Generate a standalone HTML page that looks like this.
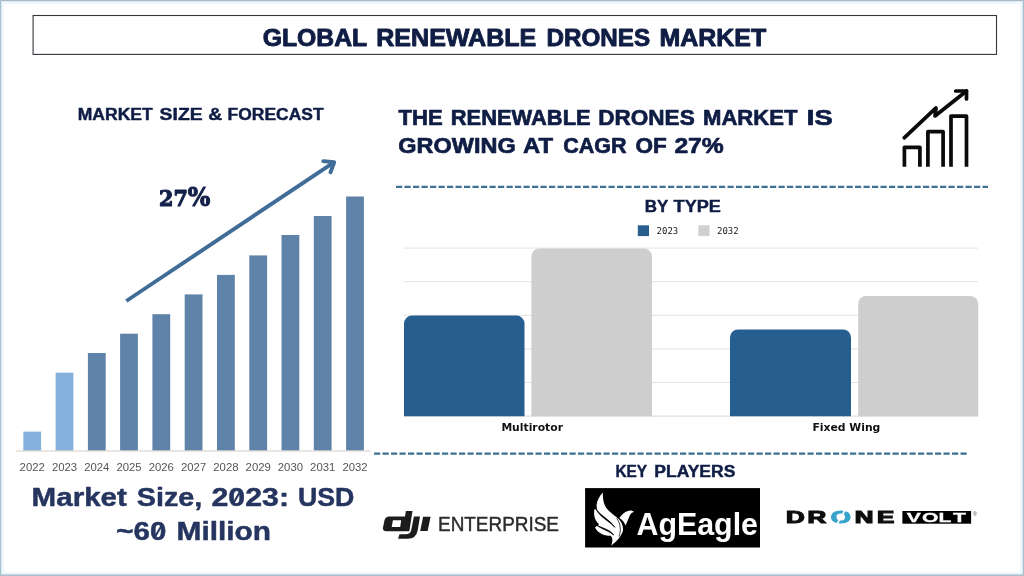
<!DOCTYPE html>
<html lang="en">
<head>
<meta charset="utf-8">
<title>Global Renewable Drones Market</title>
<style>
html,body{margin:0;padding:0;background:#fff;}
body{width:1024px;height:576px;overflow:hidden;position:relative;}
svg{position:absolute;left:0;top:0;display:block;}
.h{font-family:"Liberation Sans",sans-serif;font-weight:bold;fill:#0f1d45;stroke:#0f1d45;stroke-width:0.45px;stroke-linejoin:round;}
.yr{font-family:"Liberation Sans",sans-serif;font-size:10.4px;fill:#555;}
.cat{font-family:"DejaVu Sans","Liberation Sans",sans-serif;font-weight:bold;font-size:10.8px;fill:#111;}
.lg{font-family:"DejaVu Sans Mono","Liberation Mono",monospace;font-size:9px;fill:#1a1a1a;}
</style>
</head>
<body>
<svg width="1024" height="576" viewBox="0 0 1024 576">
<!-- frame -->
<rect x="0" y="0" width="1024" height="576" fill="#ffffff"/>
<rect x="0" y="0" width="1024" height="576" fill="none" stroke="#eef7fb" stroke-width="8"/>
<rect x="0" y="0" width="1024" height="1.2" fill="#a9bcc8"/>
<rect x="0" y="0" width="1.2" height="576" fill="#a6c0d0"/>
<rect x="1022.7" y="0" width="1.3" height="576" fill="#a9c0d1"/>
<rect x="0" y="574.4" width="1024" height="1.6" fill="#a9bfcd"/>

<!-- title box -->
<rect x="33.1" y="15.5" width="963.4" height="38.9" fill="#fff" stroke="#33363c" stroke-width="1.1"/>
<g class="h" font-size="24.1" style="stroke-width:0.9px">
<text x="262.78" y="45.6" textLength="104.37" lengthAdjust="spacingAndGlyphs">GLOBAL</text>
<text x="376.25" y="45.6" textLength="160.09" lengthAdjust="spacingAndGlyphs">RENEWABLE</text>
<text x="546.51" y="45.6" textLength="103.60" lengthAdjust="spacingAndGlyphs">DRONES</text>
<text x="659.46" y="45.6" textLength="106.79" lengthAdjust="spacingAndGlyphs">MARKET</text>
</g>

<!-- left heading -->
<g class="h" font-size="16.8">
<text x="77.75" y="120" textLength="74.92" lengthAdjust="spacingAndGlyphs">MARKET</text>
<text x="159.64" y="120" textLength="43.06" lengthAdjust="spacingAndGlyphs">SIZE</text>
<text x="208.39" y="120" textLength="14.01" lengthAdjust="spacingAndGlyphs">&amp;</text>
<text x="227.56" y="120" textLength="96.01" lengthAdjust="spacingAndGlyphs">FORECAST</text>
</g>

<!-- 27% -->
<text font-family="'DejaVu Serif','Liberation Serif',serif" font-weight="bold" fill="#14204a" stroke="#14204a" stroke-width="1.1" stroke-linejoin="round"><tspan font-size="22" x="159.08" y="205.6" textLength="28.82" lengthAdjust="spacingAndGlyphs">27</tspan><tspan font-size="25.5" x="187.64" y="205.8" textLength="22.55" lengthAdjust="spacingAndGlyphs">%</tspan></text>

<!-- left bars -->
<g id="lbars">
<rect x="23.3" y="431.6" width="17.8" height="19.0" fill="#85b2dd"/>
<rect x="55.6" y="372.7" width="17.8" height="77.9" fill="#85b2dd"/>
<rect x="87.9" y="353" width="17.8" height="97.6" fill="#5f83a8"/>
<rect x="120.1" y="333.7" width="17.8" height="116.9" fill="#5f83a8"/>
<rect x="152.4" y="314.2" width="17.8" height="136.4" fill="#5f83a8"/>
<rect x="184.7" y="294.4" width="17.8" height="156.2" fill="#5f83a8"/>
<rect x="217.0" y="274.9" width="17.8" height="175.7" fill="#5f83a8"/>
<rect x="249.3" y="255.4" width="17.8" height="195.2" fill="#5f83a8"/>
<rect x="281.5" y="235" width="17.8" height="215.6" fill="#5f83a8"/>
<rect x="313.8" y="216" width="17.8" height="234.6" fill="#5f83a8"/>
<rect x="346.1" y="196.5" width="17.8" height="254.1" fill="#5f83a8"/>
</g>
<rect x="16" y="450.5" width="354.6" height="1" fill="#d6cfc6"/>
<g class="yr">
<text x="19.6" y="471.4" textLength="25.2" lengthAdjust="spacingAndGlyphs">2022</text>
<text x="51.9" y="471.4" textLength="25.2" lengthAdjust="spacingAndGlyphs">2023</text>
<text x="84.2" y="471.4" textLength="25.2" lengthAdjust="spacingAndGlyphs">2024</text>
<text x="116.4" y="471.4" textLength="25.2" lengthAdjust="spacingAndGlyphs">2025</text>
<text x="148.7" y="471.4" textLength="25.2" lengthAdjust="spacingAndGlyphs">2026</text>
<text x="181.0" y="471.4" textLength="25.2" lengthAdjust="spacingAndGlyphs">2027</text>
<text x="213.3" y="471.4" textLength="25.2" lengthAdjust="spacingAndGlyphs">2028</text>
<text x="245.6" y="471.4" textLength="25.2" lengthAdjust="spacingAndGlyphs">2029</text>
<text x="277.8" y="471.4" textLength="25.2" lengthAdjust="spacingAndGlyphs">2030</text>
<text x="310.1" y="471.4" textLength="25.2" lengthAdjust="spacingAndGlyphs">2031</text>
<text x="342.4" y="471.4" textLength="25.2" lengthAdjust="spacingAndGlyphs">2032</text>
</g>

<!-- trend arrow -->
<g fill="none" stroke="#3f6d98" stroke-width="3.9">
<line x1="126.3" y1="301" x2="333.5" y2="162.6"/>
<polyline points="323.3,161.1 334.2,162.2 330.5,172.2" stroke-linecap="round" stroke-linejoin="round"/>
</g>

<!-- market size text -->
<g class="h" font-size="25" style="fill:#25355f;stroke:#25355f">
<text x="31.6" y="506.4" textLength="95.3" lengthAdjust="spacingAndGlyphs">Market</text>
<text x="136.7" y="506.4" textLength="65.6" lengthAdjust="spacingAndGlyphs">Size,</text>
<text x="211.5" y="506.4" textLength="77.5" lengthAdjust="spacingAndGlyphs">2023:</text>
<text x="298" y="506.4" textLength="56.4" lengthAdjust="spacingAndGlyphs">USD</text>
</g>
<g class="h" font-size="25" style="fill:#25355f;stroke:#25355f">
<text x="116.3" y="539.8" textLength="50" lengthAdjust="spacingAndGlyphs">~60</text>
<text x="176.6" y="539.8" textLength="94.4" lengthAdjust="spacingAndGlyphs">Million</text>
</g>

<g stroke="#25355f" stroke-width="2" stroke-linecap="round"><line x1="233.4" y1="503.2" x2="240" y2="491.8"/><line x1="155.2" y1="536.6" x2="161.8" y2="525.2"/></g>
<!-- right heading -->
<g class="h" font-size="22.2" style="stroke-width:0.7px">
<text x="398.50" y="124.9" textLength="44.10" lengthAdjust="spacingAndGlyphs">THE</text>
<text x="450.82" y="124.9" textLength="139.78" lengthAdjust="spacingAndGlyphs">RENEWABLE</text>
<text x="598.18" y="124.9" textLength="96.54" lengthAdjust="spacingAndGlyphs">DRONES</text>
<text x="703.01" y="124.9" textLength="94.45" lengthAdjust="spacingAndGlyphs">MARKET</text>
<text x="806.88" y="124.9" textLength="25.82" lengthAdjust="spacingAndGlyphs">IS</text>
</g>
<g class="h" font-size="22.2" style="stroke-width:0.7px">
<text x="398.35" y="153.2" textLength="117.30" lengthAdjust="spacingAndGlyphs">GROWING</text>
<text x="522.96" y="153.2" textLength="30.01" lengthAdjust="spacingAndGlyphs">AT</text>
<text x="563.23" y="153.2" textLength="63.39" lengthAdjust="spacingAndGlyphs">CAGR</text>
<text x="635.54" y="153.2" textLength="31.29" lengthAdjust="spacingAndGlyphs">OF</text>
<text x="674.42" y="153.2" textLength="49.38" lengthAdjust="spacingAndGlyphs">27%</text>
</g>

<!-- growth icon -->
<g fill="none" stroke="#0a0a0a" stroke-width="3.7" stroke-linejoin="round">
<polyline points="904.4,166.8 904.4,147.3 919.9,147.3 919.9,166.8"/>
<polyline points="927.9,166.8 927.9,131.7 943.1,131.7 943.1,166.8"/>
<polyline points="951,166.8 951,116.1 966.5,116.1 966.5,166.8"/>
<polyline points="904.2,137.8 936,107.9 935,116 966.5,91" stroke-linecap="round"/>
<polyline points="955.7,91 966.5,91 966.5,98.9" stroke-linecap="round"/>
</g>

<!-- dashed lines -->
<line x1="396" y1="186.8" x2="988" y2="186.8" stroke="#3b7191" stroke-width="2.2" stroke-dasharray="6.2 2.3"/>
<line x1="374" y1="453.6" x2="967" y2="453.6" stroke="#3b7191" stroke-width="2.2" stroke-dasharray="6.2 2.3"/>

<!-- BY TYPE chart -->
<g class="h" font-size="16.8">
<text x="644.69" y="212" textLength="23.52" lengthAdjust="spacingAndGlyphs">BY</text>
<text x="673.64" y="212" textLength="47.31" lengthAdjust="spacingAndGlyphs">TYPE</text>
</g>
<rect x="637.8" y="225.3" width="11.2" height="10.8" fill="#27608f"/>
<text class="lg" x="656.6" y="234">2023</text>
<rect x="698.3" y="225.3" width="11.2" height="10.8" fill="#d0d0d0"/>
<text class="lg" x="717" y="234">2032</text>
<g stroke="#dfdfdf" stroke-width="0.9">
<line x1="403.7" y1="248.1" x2="978" y2="248.1"/>
<line x1="403.7" y1="281.7" x2="978" y2="281.7"/>
<line x1="403.7" y1="315.3" x2="978" y2="315.3"/>
<line x1="403.7" y1="348.9" x2="978" y2="348.9"/>
<line x1="403.7" y1="382.5" x2="978" y2="382.5"/>
<line x1="403.7" y1="416.1" x2="978" y2="416.1" stroke="#d6d6d6"/>
</g>
<path d="M404 416.2 V323.6 a8 8 0 0 1 8 -8 H516.5 a8 8 0 0 1 8 8 V416.2 Z" fill="#265e90"/>
<path d="M531.4 416.2 V256.4 a8 8 0 0 1 8 -8 H644 a8 8 0 0 1 8 8 V416.2 Z" fill="#cecece"/>
<path d="M730 416.2 V337.4 a8 8 0 0 1 8 -8 H843 a8 8 0 0 1 8 8 V416.2 Z" fill="#265e90"/>
<path d="M858.2 416.2 V303.9 a8 8 0 0 1 8 -8 H970.2 a8 8 0 0 1 8 8 V416.2 Z" fill="#cecece"/>
<text class="cat" x="532.2" y="430.9" text-anchor="middle">Multirotor</text>
<text class="cat" x="846.4" y="430.9" text-anchor="middle">Fixed Wing</text>

<!-- KEY PLAYERS -->
<g class="h" font-size="16.8">
<text x="615.39" y="476.7" textLength="31.70" lengthAdjust="spacingAndGlyphs">KEY</text>
<text x="654.36" y="476.7" textLength="80.97" lengthAdjust="spacingAndGlyphs">PLAYERS</text>
</g>

<!-- DJI Enterprise -->
<g fill="#1c1c1c">
<path fill-rule="evenodd" d="M405.9,511 L412.5,511 L409.3,531.3 L386.6,531.3 Q382.3,531.3 383,527.6 L384.5,520.2 Q385.3,516.4 389.4,516.4 L405,516.4 Z M392.9,520.2 L401.2,520.2 L400.2,526.9 L391.7,526.9 Z"/>
<path d="M413.9,516.6 L420,516.6 L417.7,530.3 Q416.3,538.8 407.6,538.8 L398.1,538.8 L399.5,534.2 L405.6,534.2 Q410.4,534.2 411.2,530.3 Z"/>
<path d="M423.1,516.8 L430.6,516.8 L427.6,531.1 L420.2,531.1 Z"/>
</g>
<text x="438" y="531.4" font-family="'Liberation Sans',sans-serif" font-size="20.4" fill="#2b2b2b" stroke="#2b2b2b" stroke-width="0.45" textLength="121" lengthAdjust="spacingAndGlyphs">ENTERPRISE</text>

<!-- AgEagle -->
<rect x="585.1" y="488.1" width="174.9" height="59.4" fill="#000"/>
<g fill="#fff" transform="translate(584 486) scale(0.1111)">
<path d="M170,58 C128,100 103,160 118,214 L95,208 C80,270 104,318 136,345 L99,373 C125,425 185,450 240,448 C262,470 258,505 244,537 C300,492 346,440 351,395 C353,350 336,315 300,285 C255,250 207,220 186,170 C173,135 168,100 170,58 Z"/>
<path d="M106,205 C150,272 232,300 278,372 C226,312 150,290 106,205 Z" fill="#000" stroke="#000" stroke-width="7" stroke-linejoin="round"/>
<path d="M112,352 C172,382 232,392 268,442 C226,402 172,396 112,352 Z" fill="#000" stroke="#000" stroke-width="7" stroke-linejoin="round"/>
<path d="M296,292 C330,340 336,400 316,452" fill="none" stroke="#000" stroke-width="7" stroke-linecap="round"/>
<path d="M318,288 C343,250 375,228 405,222 C425,218 441,224 449,234 C431,238 419,250 411,268 C399,298 389,325 373,356 C364,328 346,306 318,288 Z"/>
</g>
<text x="636.5" y="534.6" font-family="'Liberation Sans',sans-serif" font-weight="bold" font-size="32" fill="#fff" textLength="121.5" lengthAdjust="spacingAndGlyphs">AgEagle</text>

<!-- DroneVolt -->
<text transform="translate(0 522.85) scale(1.608 1)" y="0" font-family="'Liberation Sans',sans-serif" font-weight="bold" font-size="16.09" fill="#0d0d0d" stroke="#0d0d0d" stroke-width="1.1" vector-effect="non-scaling-stroke"><tspan x="488.87">D</tspan><tspan x="502.18">R</tspan><tspan x="516.62" fill="#37a3cb" stroke="#37a3cb">O</tspan><tspan x="531.50">N</tspan><tspan x="545.36">E</tspan></text>
<line x1="836.2" y1="525.4" x2="845.6" y2="509.2" stroke="#fff" stroke-width="1.7"/>
<rect x="902.4" y="511" width="68.7" height="12.7" fill="#000"/>
<text transform="translate(0 522.00) scale(1.622 1)" y="0" font-family="'Liberation Sans',sans-serif" font-weight="bold" font-size="13.00" fill="#fff" stroke="#fff" stroke-width="0.3" vector-effect="non-scaling-stroke"><tspan x="559.09">V</tspan><tspan x="568.36">O</tspan><tspan x="578.58">L</tspan><tspan x="587.58">T</tspan></text>
<text x="973" y="515.6" font-family="'Liberation Sans',sans-serif" font-size="5" fill="#333">®</text>
</svg>
</body>
</html>
